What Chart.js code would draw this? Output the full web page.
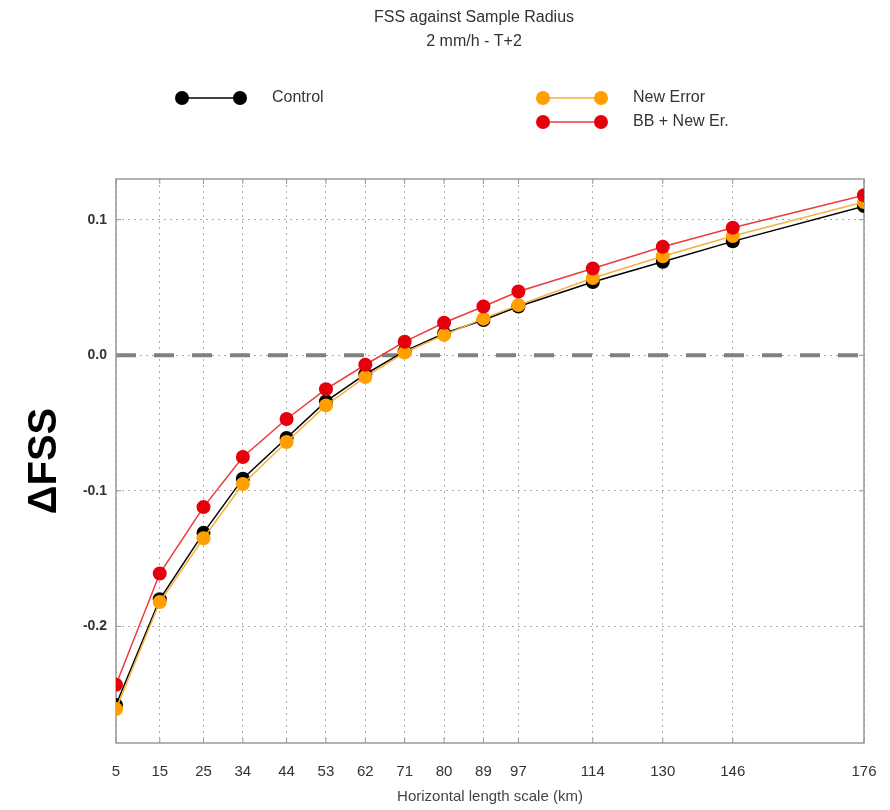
<!DOCTYPE html>
<html lang="en">
<head>
    <meta charset="UTF-8">
    <title>FSS against Sample Radius</title>
    <style>
        html, body {
            margin: 0;
            padding: 0;
            background: #fff;
            overflow: hidden;
        }
        .chart-box {
            width: 890px;
            height: 810px;
        }
    </style>
    <script src="https://cdn.jsdelivr.net/npm/chart.js"></script>
</head>
<body>

    <div class="chart-box">
        <canvas id="fss-chart" width="890" height="810"></canvas>
    </div>

    <script>
        // sample radius (km) and delta FSS per experiment
        const radius = [5, 15, 25, 34, 44, 53, 62, 71, 80, 89, 97, 114, 130, 146, 176];
        const control = [-0.258, -0.180, -0.131, -0.091, -0.061, -0.034, -0.014, 0.003, 0.016, 0.026, 0.036, 0.054, 0.069, 0.084, 0.110];
        const newError = [-0.261, -0.182, -0.135, -0.095, -0.064, -0.037, -0.016, 0.002, 0.015, 0.027, 0.037, 0.057, 0.073, 0.088, 0.113];
        const bbNewEr = [-0.243, -0.161, -0.112, -0.075, -0.047, -0.025, -0.007, 0.010, 0.024, 0.036, 0.047, 0.064, 0.080, 0.094, 0.118];
        const yTicks = [-0.2, -0.1, 0, 0.1];

        const FONT = "'Liberation Sans', Arial, Helvetica, sans-serif";

        function toPoints(values) {
            return radius.map((r, i) => ({ x: r, y: values[i] }));
        }

        // zero line, frame, inward ticks, title and legend
        const extras = {
            id: 'extras',
            beforeDatasetsDraw(chart) {
                const { ctx, chartArea: a, scales: { x, y } } = chart;
                ctx.save();

                const y0 = y.getPixelForValue(0);
                ctx.strokeStyle = '#808080';
                ctx.lineWidth = 4;
                ctx.setLineDash([20, 18]);
                ctx.beginPath();
                ctx.moveTo(a.left, y0);
                ctx.lineTo(a.right, y0);
                ctx.stroke();

                ctx.setLineDash([]);
                ctx.strokeStyle = '#999';
                ctx.lineWidth = 1.5;
                ctx.strokeRect(a.left, a.top, a.right - a.left, a.bottom - a.top);

                ctx.lineWidth = 1;
                ctx.beginPath();
                x.ticks.forEach(t => {
                    const px = x.getPixelForValue(t.value);
                    ctx.moveTo(px, a.top); ctx.lineTo(px, a.top + 5);
                    ctx.moveTo(px, a.bottom); ctx.lineTo(px, a.bottom - 5);
                });
                y.ticks.forEach(t => {
                    const py = y.getPixelForValue(t.value);
                    ctx.moveTo(a.left, py); ctx.lineTo(a.left + 5, py);
                    ctx.moveTo(a.right, py); ctx.lineTo(a.right - 5, py);
                });
                ctx.stroke();
                ctx.restore();
            },
            afterDraw(chart) {
                const ctx = chart.ctx;
                ctx.save();
                ctx.fillStyle = '#333';
                ctx.textAlign = 'center';
                ctx.textBaseline = 'middle';
                ctx.font = '16px ' + FONT;
                ctx.fillText('FSS against Sample Radius', 474, 18);
                ctx.fillText('2 mm/h - T+2', 474, 42);

                const legendPos = [
                    { x: 182, y: 98 },
                    { x: 543, y: 98 },
                    { x: 543, y: 122 }
                ];
                chart.data.datasets.forEach((ds, i) => {
                    const p = legendPos[i];
                    ctx.strokeStyle = ds.borderColor;
                    ctx.lineWidth = 1.5;
                    ctx.beginPath();
                    ctx.moveTo(p.x, p.y);
                    ctx.lineTo(p.x + 58, p.y);
                    ctx.stroke();
                    ctx.fillStyle = ds.pointBackgroundColor;
                    [p.x, p.x + 58].forEach(cx => {
                        ctx.beginPath();
                        ctx.arc(cx, p.y, 7, 0, Math.PI * 2);
                        ctx.fill();
                    });
                    ctx.fillStyle = '#333';
                    ctx.textAlign = 'left';
                    ctx.fillText(ds.label, p.x + 90, p.y);
                });
                ctx.restore();
            }
        };

        const ctx = document.getElementById('fss-chart').getContext('2d');

        const chart = new Chart(ctx, {
            type: 'line',
            data: {
                datasets: [
                    {
                        label: 'Control',
                        data: toPoints(control),
                        borderColor: '#000',
                        pointBackgroundColor: '#000',
                        order: 3
                    },
                    {
                        label: 'New Error',
                        data: toPoints(newError),
                        borderColor: '#f5b13c',
                        pointBackgroundColor: '#ffa000',
                        order: 2
                    },
                    {
                        label: 'BB + New Er.',
                        data: toPoints(bbNewEr),
                        borderColor: '#ec3b3b',
                        pointBackgroundColor: '#e6000c',
                        order: 1
                    }
                ].map(ds => Object.assign(ds, {
                    borderWidth: 1.5,
                    pointRadius: 7,
                    pointBorderWidth: 0,
                    pointBorderColor: ds.pointBackgroundColor,
                    tension: 0,
                    fill: false,
                    clip: 0
                }))
            },
            options: {
                responsive: false,
                animation: false,
                layout: {
                    padding: { top: 179, right: 26, left: 0, bottom: 0 }
                },
                plugins: {
                    legend: { display: false },
                    title: { display: false },
                    tooltip: { enabled: false }
                },
                scales: {
                    x: {
                        type: 'linear',
                        min: 5,
                        max: 176,
                        afterBuildTicks: axis => {
                            axis.ticks = radius.map(v => ({ value: v }));
                        },
                        afterFit: axis => {
                            axis.height = 67;
                            axis.paddingLeft = 0;
                            axis.paddingRight = 0;
                        },
                        ticks: {
                            autoSkip: false,
                            maxRotation: 0,
                            padding: 20,
                            color: '#333',
                            font: { family: FONT, size: 15 },
                            callback: v => v
                        },
                        grid: {
                            color: '#aaa',
                            lineWidth: 1,
                            drawTicks: false
                        },
                        border: { display: false, dash: [2, 4] },
                        title: {
                            display: true,
                            text: 'Horizontal length scale (km)',
                            color: '#444',
                            font: { family: FONT, size: 15 },
                            padding: { top: 0, bottom: 4 }
                        }
                    },
                    y: {
                        min: -0.286,
                        max: 0.13,
                        afterBuildTicks: axis => {
                            axis.ticks = yTicks.map(v => ({ value: v }));
                        },
                        afterFit: axis => { axis.width = 116; },
                        ticks: {
                            padding: 9,
                            color: '#333',
                            font: { family: FONT, size: 14, weight: 'bold' },
                            callback: v => v.toFixed(1)
                        },
                        grid: {
                            color: '#aaa',
                            lineWidth: 1,
                            drawTicks: false
                        },
                        border: { display: false, dash: [2, 4] },
                        title: {
                            display: true,
                            text: 'ΔFSS',
                            color: '#000',
                            font: { family: FONT, size: 40, weight: 'bold' },
                            padding: { top: 21, bottom: 0 }
                        }
                    }
                }
            },
            plugins: [extras]
        });
    </script>
</body>
</html>
